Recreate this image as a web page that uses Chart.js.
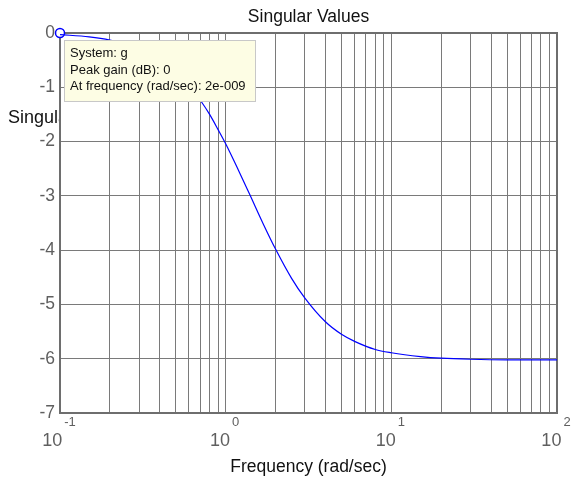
<!DOCTYPE html>
<html><head><meta charset="utf-8">
<script src="https://cdn.jsdelivr.net/npm/chart.js@4/dist/chart.umd.min.js"></script>
<style>html,body{margin:0;padding:0;background:#fff}#c{display:block}</style>
</head><body><canvas id="c" width="571" height="477"></canvas>
<script>
// ---- data ----
const freq   = [0.1, 0.15, 0.2, 0.3, 0.4, 0.5, 0.6, 0.7, 0.8, 0.9, 1, 1.2, 1.4, 1.7, 2, 2.5, 3, 4, 5, 6, 8, 10, 15, 20, 30, 50, 100];
const gainDb = [-0.03, -0.07, -0.13, -0.28, -0.47, -0.71, -0.96, -1.23, -1.50, -1.78, -2.04, -2.54, -2.98, -3.54, -3.98, -4.52, -4.88, -5.32, -5.55, -5.68, -5.83, -5.89, -5.96, -5.99, -6.01, -6.02, -6.02];
const peakFreq = [0.1];
const peakGain = [0];
const xGrid = [0.1,0.2,0.3,0.4,0.5,0.6,0.7,0.8,0.9,1,2,3,4,5,6,7,8,9,10,20,30,40,50,60,70,80,90,100];
const xMajor = [0.1, 1, 10, 100];
const xExp = ['-1', '0', '1', '2'];
const yTicks = [0, -1, -2, -3, -4, -5, -6, -7];
const titleText = 'Singular Values';
const xTitle = 'Frequency (rad/sec)';
const yTitle = 'Singular Values (dB)';
const tipLines = ['System: g', 'Peak gain (dB): 0', 'At frequency (rad/sec): 2e-009'];

const FONT = '"Liberation Sans", Arial, sans-serif';

const decor = {
  id: 'decor',
  beforeDatasetsDraw(chart) {
    const {ctx, chartArea: a} = chart;
    ctx.save();
    ctx.strokeStyle = '#6e6e6e';
    ctx.lineWidth = 2;
    ctx.strokeRect(a.left, a.top, a.right - a.left, a.bottom - a.top);
    ctx.restore();
  },
  afterDraw(chart) {
    const {ctx, chartArea: a} = chart;
    const xs = chart.scales.x, ys = chart.scales.y;
    ctx.save();
    // y tick labels
    ctx.fillStyle = '#5f5f5f';
    ctx.font = '17.5px ' + FONT;
    ctx.textAlign = 'right';
    ctx.textBaseline = 'middle';
    yTicks.forEach(v => ctx.fillText(String(v), a.left - 5, ys.getPixelForValue(v)));
    // x tick labels 10^n
    ctx.textBaseline = 'alphabetic';
    ctx.textAlign = 'left';
    xMajor.forEach((v, i) => {
      const px = xs.getPixelForValue(v);
      ctx.font = '18px ' + FONT;
      const wb = ctx.measureText('10').width;
      ctx.font = '13px ' + FONT;
      const we = ctx.measureText(xExp[i]).width;
      const start = px - (wb + 2 + we) / 2 - 1;
      ctx.font = '18px ' + FONT;
      ctx.fillText('10', start, 446);
      ctx.font = '13px ' + FONT;
      ctx.fillText(xExp[i], start + wb + 2, 426);
    });
    // titles
    ctx.fillStyle = '#111';
    ctx.font = '17.5px ' + FONT;
    ctx.textAlign = 'center';
    ctx.fillText(titleText, (a.left + a.right) / 2, 22);
    ctx.fillText(xTitle, (a.left + a.right) / 2, 472);
    // y label (clipped by axes)
    ctx.save();
    ctx.beginPath();
    ctx.rect(0, 0, a.left - 1, chart.height);
    ctx.clip();
    ctx.textAlign = 'left';
    ctx.font = '18px ' + FONT;
    ctx.fillText(yTitle, 8, 123);
    ctx.restore();
    // data tip box
    ctx.fillStyle = '#fdfde4';
    ctx.fillRect(64, 40, 192, 62);
    ctx.strokeStyle = '#c8c8c8';
    ctx.lineWidth = 1;
    ctx.strokeRect(64.5, 40.5, 191, 61);
    ctx.fillStyle = '#111';
    ctx.font = '13px ' + FONT;
    ctx.textAlign = 'left';
    tipLines.forEach((t, i) => ctx.fillText(t, 70, 57 + i * 16.5));
    ctx.restore();
  }
};

new Chart(document.getElementById('c'), {
  type: 'line',
  data: {
    datasets: [
      {
        data: freq.map((f, i) => ({x: f, y: gainDb[i]})),
        borderColor: '#0000ff',
        borderWidth: 1.2,
        pointRadius: 0,
        fill: false,
        cubicInterpolationMode: 'monotone'
      },
      {
        data: peakFreq.map((f, i) => ({x: f, y: peakGain[i]})),
        showLine: false,
        pointRadius: 4.5,
        pointBorderColor: '#0000ff',
        pointBackgroundColor: '#ffffff',
        pointBorderWidth: 1.5
      }
    ]
  },
  options: {
    responsive: false,
    animation: false,
    devicePixelRatio: 1,
    clip: false,
    layout: {padding: {left: 60, top: 33, right: 14, bottom: 64}},
    plugins: {legend: {display: false}, tooltip: {enabled: false}, title: {display: false}},
    scales: {
      x: {
        type: 'logarithmic', min: 0.1, max: 100,
        afterBuildTicks: s => { s.ticks = xGrid.map(v => ({value: v})); },
        ticks: {display: false, autoSkip: false},
        grid: {color: '#7a7a7a', lineWidth: 1, drawTicks: false},
        border: {display: false}
      },
      y: {
        type: 'linear', min: -7, max: 0,
        afterBuildTicks: s => { s.ticks = yTicks.map(v => ({value: v})); },
        ticks: {display: false},
        grid: {color: '#7a7a7a', lineWidth: 1, drawTicks: false},
        border: {display: false}
      }
    }
  },
  plugins: [decor]
});
</script>
</body></html>
